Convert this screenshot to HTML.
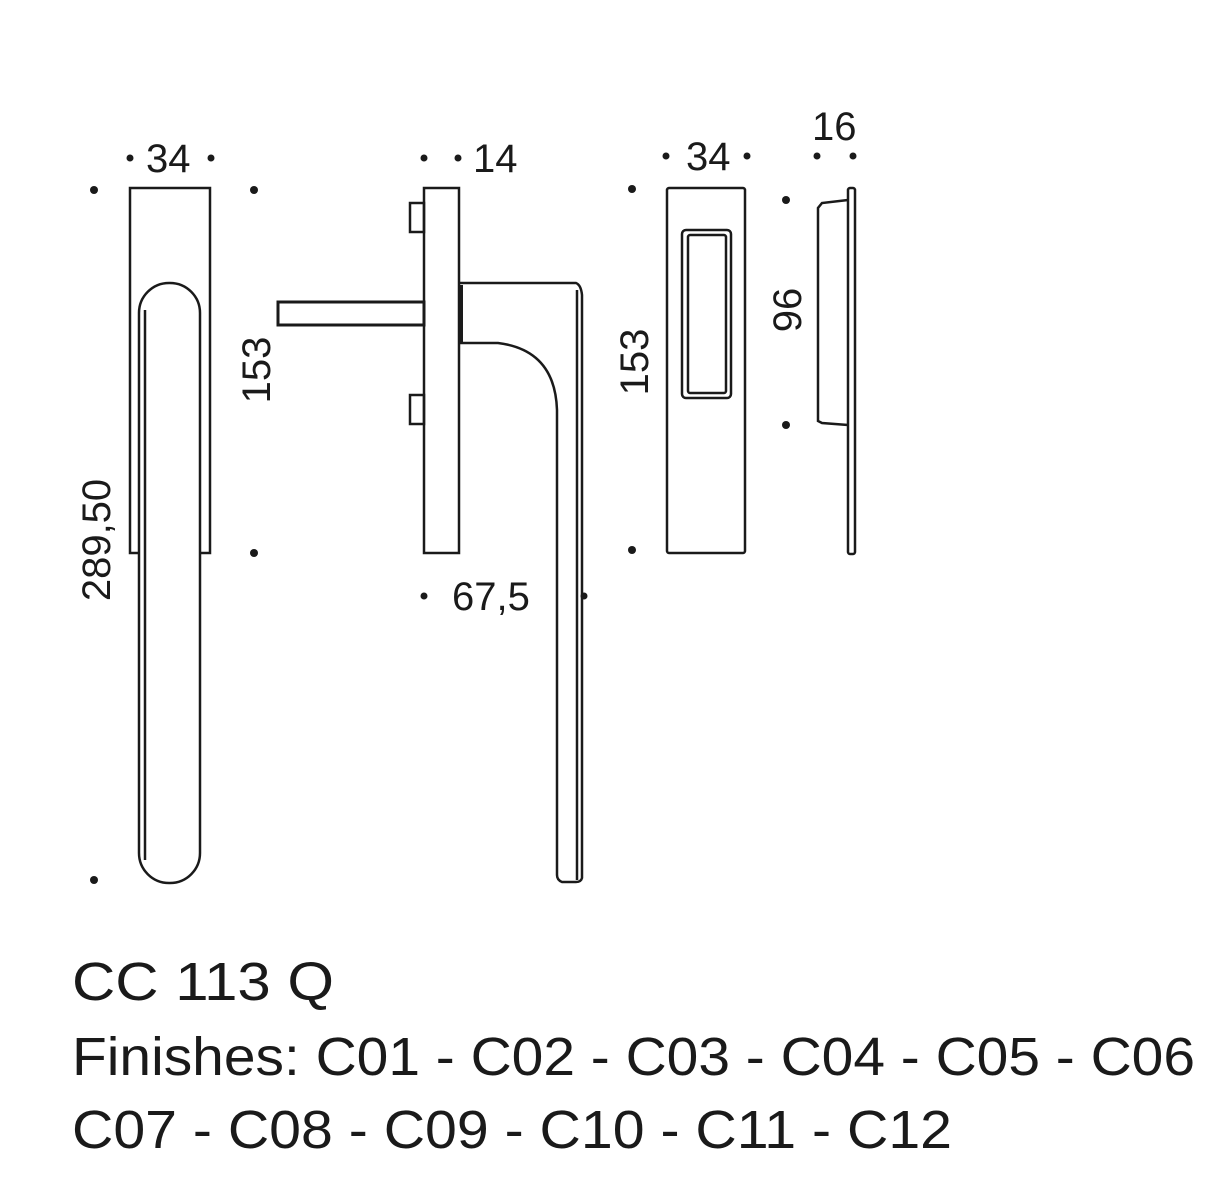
<!DOCTYPE html>
<html><head><style>body{margin:0;background:#fff}svg{display:block}</style></head><body>
<svg width="1224" height="1200" viewBox="0 0 1224 1200" xmlns="http://www.w3.org/2000/svg" font-family="Liberation Sans, sans-serif" fill="none" stroke="#1a1a1a" stroke-width="2.5">
<g fill="#1a1a1a" stroke="none">
<circle cx="94" cy="190" r="4"/><circle cx="254" cy="190" r="4"/><circle cx="254" cy="553" r="4"/><circle cx="94" cy="880" r="4"/>
<circle cx="130" cy="158" r="3.5"/><circle cx="211" cy="158" r="3.5"/>
<circle cx="424" cy="158" r="3.5"/><circle cx="458" cy="158" r="3.5"/>
<circle cx="424" cy="596" r="3.5"/><circle cx="584" cy="596" r="3.5"/>
<circle cx="632" cy="189" r="4"/><circle cx="632" cy="550" r="4"/>
<circle cx="666" cy="156" r="3.5"/><circle cx="747" cy="156" r="3.5"/>
<circle cx="786" cy="200" r="4"/><circle cx="786" cy="425" r="4"/>
<circle cx="817" cy="156" r="3.5"/><circle cx="853" cy="156" r="3.5"/>
</g>
<g fill="#1a1a1a" stroke="none" font-size="40">
<text x="146" y="172">34</text>
<text x="473" y="172">14</text>
<text x="686" y="170">34</text>
<text x="812" y="140">16</text>
<text x="452" y="610">67,5</text>
<text transform="translate(270,370) rotate(-90)" text-anchor="middle">153</text>
<text transform="translate(110,540) rotate(-90)" text-anchor="middle">289,50</text>
<text transform="translate(648,362) rotate(-90)" text-anchor="middle">153</text>
<text transform="translate(801,310) rotate(-90)" text-anchor="middle">96</text>
<text x="72" y="1000" font-size="54" textLength="262" lengthAdjust="spacingAndGlyphs">CC 113 Q</text>
<text x="72" y="1075" font-size="54" textLength="1123" lengthAdjust="spacingAndGlyphs">Finishes: C01 - C02 - C03 - C04 - C05 - C06</text>
<text x="72" y="1148" font-size="54" textLength="880" lengthAdjust="spacingAndGlyphs">C07 - C08 - C09 - C10 - C11 - C12</text>
</g>
<!-- left -->
<rect x="130" y="188" width="80" height="365"/>
<rect x="139" y="283" width="61" height="600" rx="30" fill="#fff"/>
<path d="M145 310 L145 860"/>
<!-- middle -->
<rect x="278" y="302" width="146" height="23" stroke-width="3"/>
<rect x="410" y="203" width="14" height="29"/>
<rect x="410" y="395" width="14" height="29"/>
<rect x="424" y="188" width="35" height="365"/>
<path d="M459 283 L576 283 Q581 285 582 295 L582 878 Q581 882 576 882 L562 882 Q557 880 557 875 L557 410 Q555 350 498 343 L459 343"/>
<path d="M577 290 L577 880"/>
<path d="M461 285 L461 342" stroke-width="4"/>
<!-- right plate -->
<rect x="667" y="188" width="78" height="365" rx="2"/>
<rect x="682" y="230" width="49" height="168" rx="4"/>
<rect x="688" y="235" width="38" height="158" rx="2"/>
<!-- side -->
<rect x="848" y="188" width="7" height="366" rx="2"/>
<path d="M848 200 L822 203 L818 208 L818 421 L822 423 L848 425"/>
</svg>
</body></html>
